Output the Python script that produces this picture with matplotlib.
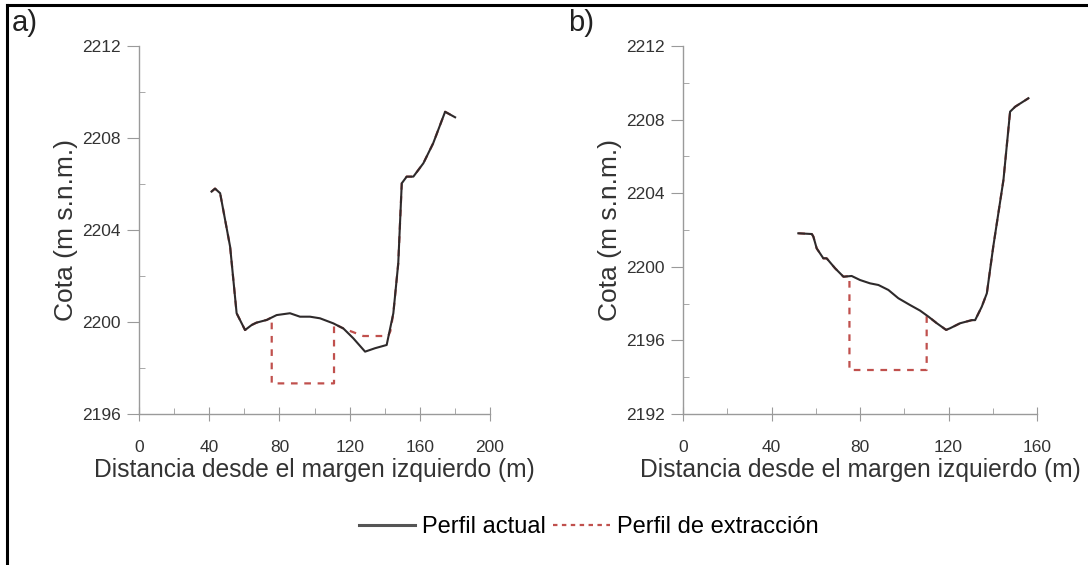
import matplotlib.pyplot as plt
from matplotlib.lines import Line2D
from matplotlib.ticker import MultipleLocator

# ---- data ----
a_x = [41.3, 43.3, 46.2, 51.9, 55.6, 60.4, 64.2, 66.9, 72.8, 78.4, 86.0, 91.7,
       97.4, 103.1, 110.7, 116.4, 122.1, 128.8, 134.5, 141.1, 144.9, 147.7,
       149.7, 152.5, 156.3, 162.0, 167.6, 174.4, 180.1]
a_y = [2205.67, 2205.8, 2205.6, 2203.27, 2200.38, 2199.65, 2199.87, 2199.97,
       2200.09, 2200.3, 2200.38, 2200.23, 2200.23, 2200.16, 2199.94, 2199.72,
       2199.29, 2198.71, 2198.86, 2199.0, 2200.38, 2202.55, 2206.03, 2206.32,
       2206.32, 2206.9, 2207.77, 2209.14, 2208.9]
a_ext_x = [41.3, 43.3, 46.2, 51.9, 55.6, 60.4, 64.2, 66.9, 72.8, 75.6, 75.6,
           111.1, 111.1, 116.4, 127.8, 142.0, 143.2, 144.9, 147.7, 149.7, 152.5,
           156.3, 162.0, 167.6, 174.4, 180.1]
a_ext_y = [2205.67, 2205.8, 2205.6, 2203.27, 2200.38, 2199.65, 2199.87, 2199.97,
           2200.09, 2200.2, 2197.33, 2197.33, 2199.92, 2199.72, 2199.39, 2199.39,
           2199.6, 2200.38, 2202.55, 2206.03, 2206.32, 2206.32, 2206.9, 2207.77,
           2209.14, 2208.9]

b_x = [52.1, 58.2, 58.9, 60.4, 63.4, 64.9, 68.7, 72.5, 76.2, 80.0, 84.5, 88.3,
       92.8, 97.3, 102.6, 107.1, 110.9, 114.7, 118.9, 120.7, 125.2, 130.5, 132.0,
       135.0, 137.3, 140.2, 144.8, 147.8, 150.1, 156.1]
b_y = [2201.82, 2201.78, 2201.64, 2201.0, 2200.46, 2200.46, 2199.92, 2199.46,
       2199.5, 2199.28, 2199.1, 2199.01, 2198.74, 2198.29, 2197.92, 2197.62,
       2197.29, 2196.93, 2196.57, 2196.66, 2196.93, 2197.1, 2197.1, 2197.83,
       2198.56, 2201.1, 2204.72, 2208.43, 2208.7, 2209.16]
b_ext_x = [52.1, 58.2, 58.9, 60.4, 63.4, 64.9, 68.7, 72.5, 75.2, 75.2, 110.1,
           110.1, 110.9, 114.7, 118.9, 120.7, 125.2, 130.5, 132.0, 135.0, 137.3,
           140.2, 144.8, 147.8, 150.1, 156.1]
b_ext_y = [2201.82, 2201.78, 2201.64, 2201.0, 2200.46, 2200.46, 2199.92, 2199.46,
           2199.5, 2194.39, 2194.39, 2197.35, 2197.29, 2196.93, 2196.57, 2196.66,
           2196.93, 2197.1, 2197.1, 2197.83, 2198.56, 2201.1, 2204.72, 2208.43,
           2208.7, 2209.16]

x_label = "Distancia desde el margen izquierdo (m)"
y_label = "Cota (m s.n.m.)"
legend_labels = ["Perfil actual", "Perfil de extracción"]

plt.rcParams['font.family'] = ['Liberation Sans', 'DejaVu Sans']

solid_c = "#2e2a2b"
dash_c = "#c0504d"
axis_c = "#9a9a9a"
text_c = "#333333"

fig = plt.figure(figsize=(10.88, 5.65), dpi=100)


def style(ax, xlim, xmaj, ylim, ymaj):
  ax.set_xlim(*xlim)
  ax.set_ylim(*ylim)
  ax.xaxis.set_major_locator(MultipleLocator(xmaj))
  ax.xaxis.set_minor_locator(MultipleLocator(xmaj / 2))
  ax.yaxis.set_major_locator(MultipleLocator(ymaj))
  ax.yaxis.set_minor_locator(MultipleLocator(ymaj / 2))
  for s in ["top", "right"]:
    ax.spines[s].set_visible(False)
  for s in ["left", "bottom"]:
    ax.spines[s].set_color(axis_c)
    ax.spines[s].set_linewidth(1.0)
  ax.tick_params(axis="y", which="major", direction="out", length=9, color=axis_c,
                 pad=4, labelsize=12.5, labelcolor=text_c)
  ax.tick_params(axis="y", which="minor", direction="in", length=4, color=axis_c)
  ax.tick_params(axis="x", which="major", direction="inout", length=10, color=axis_c,
                 pad=14, labelsize=12.5, labelcolor=text_c)
  ax.tick_params(axis="x", which="minor", direction="in", length=4, color=axis_c)
  ax.set_xlabel(x_label, fontsize=17.7, color=text_c, labelpad=2)
  ax.set_ylabel(y_label, fontsize=19, color=text_c, labelpad=3)
  ax.patch.set_alpha(0)


ax1 = fig.add_axes([0.1278, 0.2673, 0.3226, 0.6513])
ax1.plot(a_ext_x, a_ext_y, color=dash_c, lw=1.6, ls=(0, (3, 3)), zorder=2)
ax1.plot(a_x, a_y, color=solid_c, lw=1.5, zorder=3)
style(ax1, (0, 200), 40, (2196, 2212), 4)

ax2 = fig.add_axes([0.6278, 0.2673, 0.3254, 0.6513])
ax2.plot(b_ext_x, b_ext_y, color=dash_c, lw=1.6, ls=(0, (3, 3)), zorder=2)
ax2.plot(b_x, b_y, color=solid_c, lw=1.5, zorder=3)
style(ax2, (0, 160), 40, (2192, 2212), 4)

fig.text(0.011, 0.945, "a)", fontsize=21, color="#222222")
fig.text(0.522, 0.945, "b)", fontsize=21, color="#222222")

handles = [Line2D([], [], color="#555555", lw=2.2),
           Line2D([], [], color=dash_c, lw=1.6, ls=(0, (2, 2)))]
fig.legend(handles, legend_labels, loc="center", bbox_to_anchor=(0.541, 0.067),
           ncol=2, frameon=False, fontsize=17, handlelength=2.4,
           handletextpad=0.3, columnspacing=0.3)

# border lines (top and left)
fig.add_artist(Line2D([0.006, 1.0], [0.991, 0.991], color="black", lw=2.2,
                      transform=fig.transFigure))
fig.add_artist(Line2D([0.006, 0.006], [0.0, 0.991], color="black", lw=2.2,
                      transform=fig.transFigure))

fig.savefig("out.png", dpi=100, facecolor="white")
